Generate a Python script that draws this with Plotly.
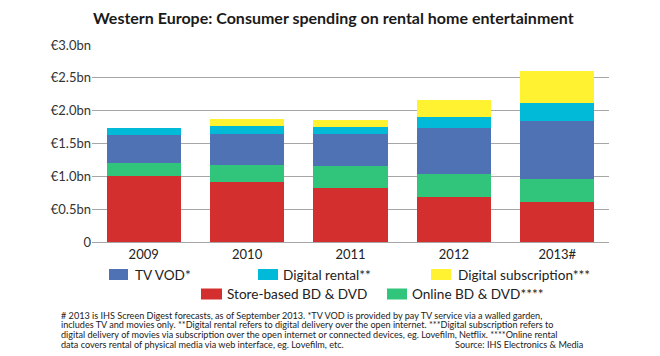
import plotly.graph_objects as go

# ---- data ----
years = ["2009", "2010", "2011", "2012", "2013#"]
store_based = [1.00, 0.92, 0.83, 0.69, 0.61]
online_bd = [0.20, 0.25, 0.32, 0.34, 0.35]
tv_vod = [0.43, 0.48, 0.50, 0.70, 0.88]
digital_rental = [0.11, 0.11, 0.10, 0.17, 0.28]
digital_sub = [0.00, 0.12, 0.11, 0.26, 0.49]

y_tickvals = [0, 0.5, 1.0, 1.5, 2.0, 2.5, 3.0]
y_ticktext = ["0", "€0.5bn", "€1.0bn", "€1.5bn", "€2.0bn", "€2.5bn", "€3.0bn"]

series = [
    ("Store-based BD & DVD", store_based, "#D32F2F"),
    ("Online BD & DVD****", online_bd, "#31C47B"),
    ("TV VOD*", tv_vod, "#4F72B5"),
    ("Digital rental**", digital_rental, "#00BAD8"),
    ("Digital subscription***", digital_sub, "#FFF230"),
]

FONT = "Lato, 'Noto Sans', sans-serif"
W, H = 660, 356
L, R, T, B = 92, 51, 45, 114
PW, PH = W - L - R, H - T - B


def px(x):
    return (x - L) / PW


def py(y):
    return (H - B - y) / PH


fig = go.Figure()
for name, vals, col in series:
    fig.add_trace(go.Bar(x=years, y=vals, name=name, marker_color=col,
                         marker_line_width=0, showlegend=False, hoverinfo="skip"))

# custom legend (layout positions)
legend_items = [
    ("TV VOD*", "#4F72B5", 109, 128, 133, 274.5),
    ("Digital rental**", "#00BAD8", 258, 278, 281, 274.5),
    ("Digital subscription***", "#FFF230", 431, 451, 456, 274.5),
    ("Store-based BD & DVD", "#D32F2F", 201, 222, 225, 294),
    ("Online BD & DVD****", "#31C47B", 387, 407, 409.5, 294),
]
shapes = []
annotations = []
for text, col, x0, x1, tx, yc in legend_items:
    shapes.append(dict(type="rect", xref="paper", yref="paper",
                       x0=px(x0), x1=px(x1), y0=py(yc + 5.5), y1=py(yc - 5.5),
                       fillcolor=col, line=dict(width=0)))
    annotations.append(dict(text=text, xref="paper", yref="paper", x=px(tx), y=py(yc),
                            xanchor="left", yanchor="middle", showarrow=False,
                            font=dict(family=FONT, size=13.6, color="#222")))

foot_lines = [
    "# 2013 is IHS Screen Digest forecasts, as of September 2013. *TV VOD is provided by pay TV service via a walled garden,",
    "includes TV and movies only. **Digital rental refers to digital delivery over the open internet. ***Digital subscription refers to",
    "digital delivery of movies via subscription over the open internet or connected devices, eg. Lovefilm, Netflix. ****Online rental",
    "data covers rental of physical media via web interface, eg. Lovefilm, etc.",
]
foot_y = [315, 324.7, 334.3, 344]
for t, yy in zip(foot_lines, foot_y):
    annotations.append(dict(text=t, xref="paper", yref="paper", x=px(59), y=py(yy),
                            xanchor="left", yanchor="middle", showarrow=False,
                            font=dict(family=FONT, size=9.1, color="#222")))
annotations.append(dict(text="Source: IHS Electronics & Media", xref="paper", yref="paper",
                        x=px(585), y=py(344), xanchor="right", yanchor="middle",
                        showarrow=False, font=dict(family=FONT, size=9.1, color="#222")))

# title
annotations.append(dict(text="<b>Western Europe: Consumer spending on rental home entertainment</b>",
                        xref="paper", yref="paper", x=px(333), y=py(18),
                        xanchor="center", yanchor="middle", showarrow=False,
                        font=dict(family=FONT, size=16, color="#1a1a1a")))

fig.update_layout(
    width=W, height=H,
    margin=dict(l=L, r=R, t=T, b=B, pad=0),
    barmode="stack", bargap=0.284,
    plot_bgcolor="white", paper_bgcolor="white",
    font=dict(family=FONT, size=13, color="#222"),
    shapes=shapes, annotations=annotations,
    hovermode=False,
    xaxis=dict(showgrid=False, showline=False, ticks="", ticklabelstandoff=3,
               tickfont=dict(size=13, color="#222")),
    yaxis=dict(range=[0, 3.0], tickvals=y_tickvals, ticktext=y_ticktext,
               showgrid=True, gridcolor="#A6A6A6", gridwidth=1,
               zeroline=True, zerolinecolor="#A6A6A6", zerolinewidth=1,
               showline=False, ticks="", tickfont=dict(size=13, color="#333")),
)

fig.write_html("out.html", config={"displayModeBar": False},
               post_script="document.body.style.margin='0';")
